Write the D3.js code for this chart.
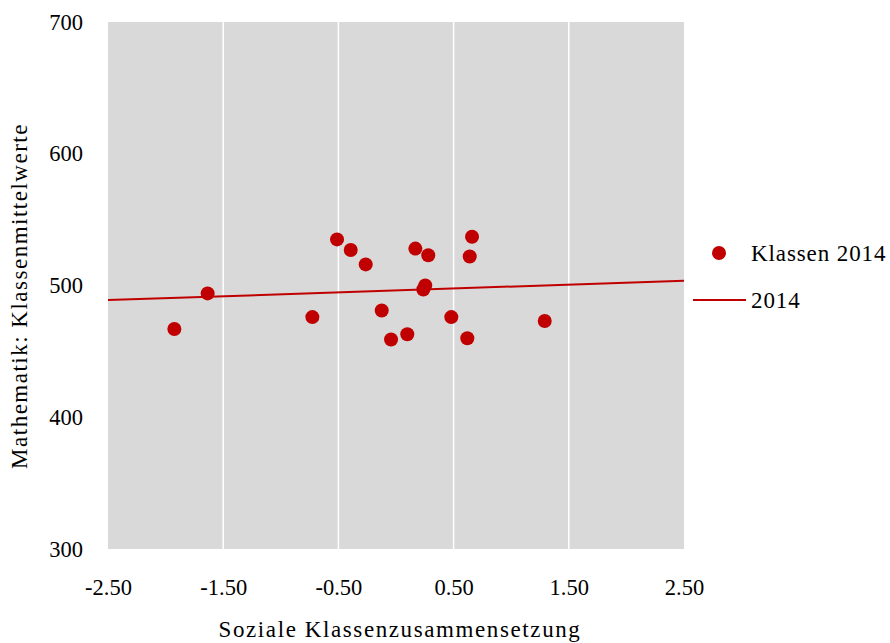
<!DOCTYPE html>
<html><head><meta charset="utf-8">
<script src="https://cdn.jsdelivr.net/npm/d3@7"></script>
<style>body{margin:0;background:#fff;} text{font-family:"Liberation Serif","Times New Roman",serif;fill:#000;}</style>
</head><body>
<svg id="c" width="890" height="643"></svg>
<script>
const xValues = [-1.924,-1.635,-0.726,-0.512,-0.393,-0.263,-0.124,-0.043,0.098,0.168,0.280,0.254,0.237,0.660,0.640,0.480,0.619,1.291];
const yValues = [467,494,476,535,527,516,481,459,463,528,523,500,497,537,522,476,460,473];
const trendX = [-2.5, 2.5];
const trendY = [488.9, 503.6];
const xTicks = [-2.5,-1.5,-0.5,0.5,1.5,2.5];
const yTicks = [300,400,500,600,700];
const seriesName = "Klassen 2014";
const trendName = "2014";
const red = "#c00000";

const svg = d3.select("#c");
const m = {l:108, t:22, r:684, b:549};
const x = d3.scaleLinear().domain([-2.5,2.5]).range([m.l,m.r]);
const y = d3.scaleLinear().domain([300,700]).range([m.b,m.t]);

svg.append("rect").attr("x",m.l).attr("y",m.t).attr("width",m.r-m.l).attr("height",m.b-m.t).attr("fill","#d9d9d9");
svg.append("g").selectAll("line").data(xTicks.slice(1,-1)).join("line")
  .attr("x1",d=>x(d)).attr("x2",d=>x(d)).attr("y1",m.t).attr("y2",m.b)
  .attr("stroke","#fff").attr("stroke-width",1.5);

const fmtX = d => d3.format(".2f")(d).replace("\u2212","-");
const xa = svg.append("g").attr("transform",`translate(0,${m.b})`)
  .call(d3.axisBottom(x).tickValues(xTicks).tickFormat(fmtX).tickSize(0).tickPadding(30));
xa.select(".domain").remove();
xa.selectAll("text").style("font-size","22.5px").attr("font-family",null);
const ya = svg.append("g").attr("transform",`translate(${m.l},0)`)
  .call(d3.axisLeft(y).tickValues(yTicks).tickFormat(d3.format("d")).tickSize(0).tickPadding(25));
ya.select(".domain").remove();
ya.selectAll("text").style("font-size","22.5px").attr("font-family",null);

svg.append("line").attr("x1",x(trendX[0])).attr("y1",y(trendY[0])).attr("x2",x(trendX[1])).attr("y2",y(trendY[1]))
  .attr("stroke",red).attr("stroke-width",2);

svg.append("g").selectAll("circle").data(xValues.map((v,i)=>[v,yValues[i]])).join("circle")
  .attr("cx",d=>x(d[0])).attr("cy",d=>y(d[1])).attr("r",7).attr("fill",red);

svg.append("text").attr("x",(m.l+m.r)/2+4).attr("y",637).attr("text-anchor","middle")
  .style("font-size","23px").style("letter-spacing","1.6px").text("Soziale Klassenzusammensetzung");
svg.append("text").attr("transform","translate(27,296) rotate(-90)").attr("text-anchor","middle")
  .style("font-size","23px").style("letter-spacing","1.5px").text("Mathematik: Klassenmittelwerte");

// legend
svg.append("circle").attr("cx",719).attr("cy",253).attr("r",7).attr("fill",red);
svg.append("text").attr("x",751).attr("y",261).style("font-size","23px").style("letter-spacing","0.9px").text(seriesName);
svg.append("line").attr("x1",693).attr("x2",746).attr("y1",300).attr("y2",300).attr("stroke",red).attr("stroke-width",2);
svg.append("text").attr("x",751).attr("y",308).style("font-size","23px").style("letter-spacing","0.9px").text(trendName);
</script>
</body></html>
